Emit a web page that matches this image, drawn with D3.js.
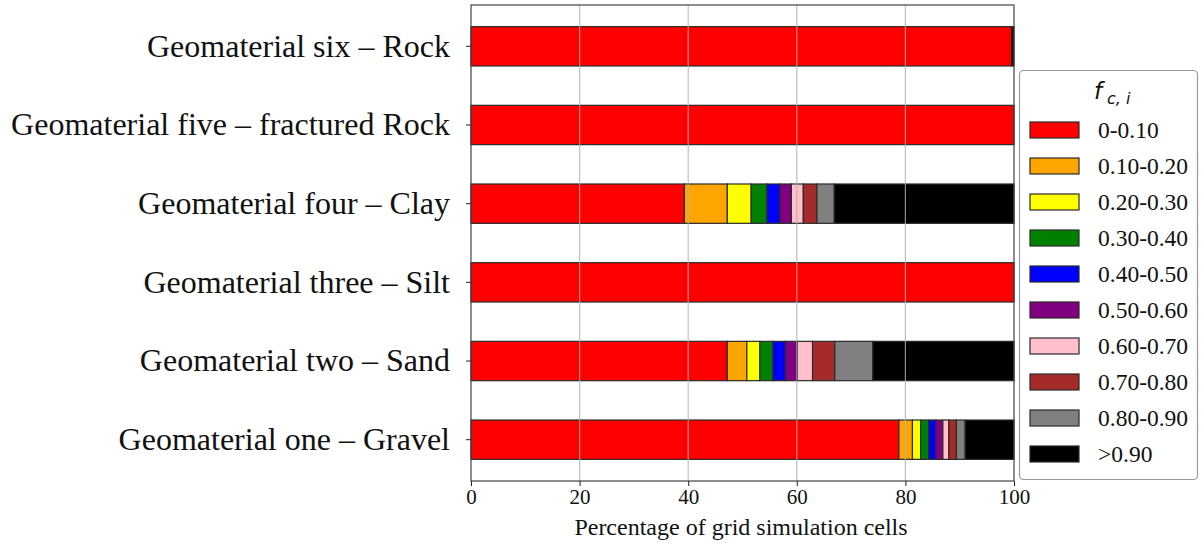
<!DOCTYPE html>
<html><head><meta charset="utf-8">
<script src="https://cdn.jsdelivr.net/npm/d3@7"></script>
<style>body{margin:0;background:#fff}svg{display:block}</style>
</head><body>
<svg id="c" width="1201" height="543"></svg>
<script>
const categories = ["Geomaterial one – Gravel","Geomaterial two – Sand","Geomaterial three – Silt","Geomaterial four – Clay","Geomaterial five – fractured Rock","Geomaterial six – Rock"];
const classes = ["0-0.10","0.10-0.20","0.20-0.30","0.30-0.40","0.40-0.50","0.50-0.60","0.60-0.70","0.70-0.80","0.80-0.90",">0.90"];
const colors = ["#ff0000","#ffa500","#ffff00","#008000","#0000ff","#800080","#ffc0cb","#a52a2a","#808080","#000000"];
// percentage of cells per class, one array per geomaterial
const gravel = [78.8, 2.5, 1.5, 1.5, 1.3, 1.3, 1.1, 1.4, 1.6, 9.0];
const sand   = [47.2, 3.6, 2.4, 2.4, 2.3, 2.2, 2.8, 4.1, 7.0, 26.0];
const silt   = [100, 0, 0, 0, 0, 0, 0, 0, 0, 0];
const clay   = [39.3, 7.9, 4.4, 2.9, 2.4, 2.1, 2.2, 2.5, 3.2, 33.1];
const fracRock = [100, 0, 0, 0, 0, 0, 0, 0, 0, 0];
const rock   = [99.6, 0, 0, 0, 0, 0, 0, 0, 0, 0.4];
const seriesByCat = [gravel, sand, silt, clay, fracRock, rock];
const xTicks = [0,20,40,60,80,100];
const xLabel = "Percentage of grid simulation cells";

const svg = d3.select("#c");
const L = 471, R = 1014, T = 5, B = 481;
const x = d3.scaleLinear().domain([0,100]).range([L,R]);
const y = d3.scaleBand().domain(categories).range([B,T]).paddingInner(0.5).paddingOuter(0.275);

// bars
const rows = categories.map((c,i)=>{
  let acc = 0;
  return seriesByCat[i].map((v,k)=>{const s={cat:c,k,x0:acc,x1:acc+v};acc+=v;return s;}).filter(s=>s.x1>s.x0);
});
const g = svg.append("g");
rows.forEach(r=>{
  g.selectAll(null).data(r).enter().append("rect")
    .attr("x",d=>x(d.x0)).attr("width",d=>x(d.x1)-x(d.x0))
    .attr("y",d=>y(d.cat)).attr("height",y.bandwidth())
    .attr("fill",d=>colors[d.k]).attr("stroke","#2a2a2a").attr("stroke-width",1.2);
});
// grid on top
svg.append("g").selectAll("line").data(xTicks.slice(1,-1)).enter().append("line")
  .attr("x1",d=>x(d)).attr("x2",d=>x(d)).attr("y1",T).attr("y2",B)
  .attr("stroke","#b0b0b0").attr("stroke-opacity",0.8).attr("stroke-width",1.2);
// frame
svg.append("rect").attr("x",L).attr("y",T).attr("width",R-L).attr("height",B-T)
  .attr("fill","none").attr("stroke","#444").attr("stroke-width",1.2);

// x axis
const xa = svg.append("g").attr("transform",`translate(0,${B})`)
  .call(d3.axisBottom(x).tickValues(xTicks).tickSize(5).tickPadding(3).tickFormat(d3.format("d")));
xa.select(".domain").remove();
xa.selectAll("line").attr("stroke","#222");
xa.selectAll("text").attr("font-family","Liberation Serif").attr("font-size",21).attr("fill","#111");
svg.append("text").attr("x",741).attr("y",535).attr("text-anchor","middle")
  .attr("font-family","Liberation Serif").attr("font-size",24).attr("fill","#111").text(xLabel);

// y axis
const ya = svg.append("g").attr("transform",`translate(${L},0)`)
  .call(d3.axisLeft(y).tickSize(5).tickPadding(16));
ya.select(".domain").remove();
ya.selectAll("line").attr("stroke","#222");
ya.selectAll("text").attr("font-family","Liberation Serif").attr("font-size",32).attr("fill","#111");

// legend
const lg = svg.append("g");
lg.append("rect").attr("x",1019.5).attr("y",70.5).attr("width",178).attr("height",409).attr("rx",4)
  .attr("fill","#fff").attr("stroke","#999").attr("stroke-width",1.2);
const t = lg.append("text").attr("y",99).attr("font-family","DejaVu Sans").attr("font-style","italic").attr("fill","#111");
t.append("tspan").attr("x",1094).attr("font-size",23).text("f");
t.append("tspan").attr("x",1107).attr("font-size",16).attr("dy",5).text("c, i");
classes.forEach((c,i)=>{
  const yy = 122 + i*36;
  lg.append("rect").attr("x",1030).attr("y",yy).attr("width",49).attr("height",16)
    .attr("fill",colors[i]).attr("stroke","#2a2a2a").attr("stroke-width",1.2);
  lg.append("text").attr("x",1098).attr("y",yy+8).attr("dy","0.35em")
    .attr("font-family","Liberation Serif").attr("font-size",23.5).attr("fill","#111").text(c);
});
</script>
</body></html>
